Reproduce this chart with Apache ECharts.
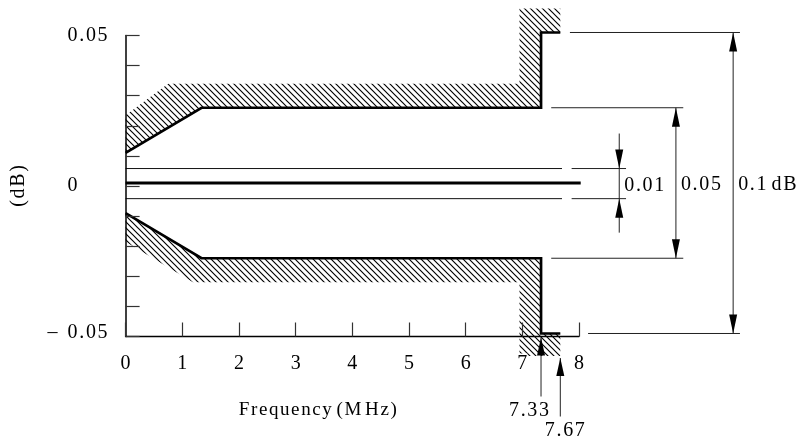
<!DOCTYPE html>
<html>
<head>
<meta charset="utf-8">
<script src="https://cdn.jsdelivr.net/npm/echarts@6/dist/echarts.min.js"></script>
<style>
  html, body { margin: 0; padding: 0; background: #fff; }
  #chart { width: 798px; height: 446px; }
</style>
</head>
<body>
<div id="chart"></div>
<script>
// Axis ranges / ticks
const xTicks = [0, 1, 2, 3, 4, 5, 6, 7, 8];            // MHz
const yLabelled = [-0.05, 0, 0.05];                     // dB

// Mask limits (MHz, dB)
const upperLimit = [[0, 0.011], [1.34, 0.026], [7.33, 0.026], [7.33, 0.051], [7.67, 0.051]];
const lowerLimit = [[0, -0.009], [1.34, -0.024], [7.33, -0.024], [7.33, -0.049], [7.67, -0.049]];

// Outer edges of the forbidden (hatched) zones, continuing from the limit's last point
const upperZoneEdge = [[7.67, 0.059], [6.95, 0.059], [6.95, 0.034], [0.75, 0.034], [0, 0.0235]];
const lowerZoneEdge = [[7.67, -0.0565], [6.95, -0.0565], [6.95, -0.032], [1.19, -0.032], [0, -0.0185]];

// Nominal response and its 0.01 dB ripple window
const nominal = [[0, 0.001], [8.03, 0.001]];
const rippleHigh = [[0, 0.0058], [7.7, 0.0058]];
const rippleLow = [[0, -0.0042], [7.7, -0.0042]];

// Extension lines for the dimension arrows
const extensionLines = [
  [[7.84, 0.051], [10.84, 0.051]],
  [[7.51, 0.026], [9.84, 0.026]],
  [[7.87, 0.0058], [8.83, 0.0058]],
  [[7.87, -0.0042], [8.83, -0.0042]],
  [[7.51, -0.024], [9.84, -0.024]],
  [[8.16, -0.049], [10.84, -0.049]]
];

// Dimensioned spans: position, bottom, top, caption
const spanX = [8.71, 9.71, 10.72];
const spanLow = [-0.0042, -0.024, -0.049];
const spanHigh = [0.0058, 0.026, 0.051];
const spanText = ['0.01', '0.05', '0.1 dB'];

// Band-edge frequencies marked below the axis
const edgeFreqs = [7.33, 7.67];
const edgeText = ['7.33', '7.67'];

const FONT = '"Liberation Serif", "Times New Roman", serif';
// letter-spaced text; ordinary spaces are kept as they are
const spaced = s => s.split(' ').map(w => w.split('').join('\u200A')).join(' ');

function makeHatch() {
  const s = 6;
  const c = document.createElement('canvas');
  c.width = s; c.height = s;
  const g = c.getContext('2d');
  g.strokeStyle = '#000';
  g.lineWidth = 1.15;
  g.beginPath();
  for (let k = -1; k <= 1; k++) {
    g.moveTo(k * s - 1, -1);
    g.lineTo(k * s + s + 1, s + 1);
  }
  g.stroke();
  return c;
}
const hatch = { image: makeHatch(), repeat: 'repeat' };

function arrowHead(tip, dir, len, w) {
  const px = -dir[1], py = dir[0];
  const bx = tip[0] - dir[0] * len, by = tip[1] - dir[1] * len;
  return {
    type: 'polygon',
    shape: { points: [tip, [bx + px * w / 2, by + py * w / 2], [bx - px * w / 2, by - py * w / 2]] },
    style: { fill: '#000', stroke: null }
  };
}

function renderAnnotations(params, api) {
  const pt = p => api.coord(p);
  const kids = [];
  // forbidden zones
  [[upperLimit, upperZoneEdge], [lowerLimit, lowerZoneEdge]].forEach(([lim, edge]) => {
    kids.push({
      type: 'polygon', z2: 0,
      shape: { points: lim.concat(edge).map(pt) },
      style: { fill: hatch, stroke: null }
    });
  });
  // extension lines
  extensionLines.forEach(seg => {
    kids.push({
      type: 'polyline',
      shape: { points: seg.map(pt) },
      style: { stroke: '#222', lineWidth: 1, fill: null }
    });
  });
  // dimension arrows
  spanX.forEach((x, i) => {
    const top = pt([x, spanHigh[i]]);
    const bot = pt([x, spanLow[i]]);
    const L = 19, W = 8;
    if (i === 0) {
      // narrow span: arrows point inward from outside
      kids.push({ type: 'line', shape: { x1: top[0], y1: top[1] - 35, x2: bot[0], y2: bot[1] + 34 },
        style: { stroke: '#222', lineWidth: 1 } });
      kids.push(arrowHead(top, [0, 1], L, W));
      kids.push(arrowHead(bot, [0, -1], L, W));
    } else {
      kids.push({ type: 'line', shape: { x1: top[0], y1: top[1], x2: bot[0], y2: bot[1] },
        style: { stroke: '#222', lineWidth: 1 } });
      kids.push(arrowHead(top, [0, -1], L, W));
      kids.push(arrowHead(bot, [0, 1], L, W));
    }
    const midY = (top[1] + bot[1]) / 2 + 2;
    kids.push({ type: 'text', style: {
      text: spaced(spanText[i]), x: top[0] + 5, y: midY,
      fill: '#000', fontSize: 20, fontFamily: FONT, align: 'left', verticalAlign: 'middle'
    } });
  });
  // band-edge markers under the axis
  edgeFreqs.forEach((f, i) => {
    const base = pt([f, -0.05]);
    const tipY = i === 0 ? base[1] + 1 : base[1] + 21.5;
    const tailY = i === 0 ? base[1] + 60 : base[1] + 80;
    kids.push({ type: 'line', shape: { x1: base[0], y1: tipY, x2: base[0], y2: tailY },
      style: { stroke: '#222', lineWidth: 1 } });
    kids.push(arrowHead([base[0], tipY], [0, -1], 18, 8));
    kids.push({ type: 'text', style: {
      text: spaced(edgeText[i]),
      x: base[0] + (i === 0 ? -12 : 4.5), y: tailY + 14,
      fill: '#000', fontSize: 20, fontFamily: FONT, align: 'center', verticalAlign: 'middle'
    } });
  });
  return { type: 'group', children: kids };
}

const near = (a, b) => Math.abs(a - b) < 1e-9;

const chart = echarts.init(document.getElementById('chart'), null, { renderer: 'canvas' });
chart.setOption({
  animation: false,
  backgroundColor: '#fff',
  grid: { left: 125.6, right: 219, top: 35.5, bottom: 109.5, containLabel: false, outerBoundsMode: 'none' },
  xAxis: {
    type: 'value', min: xTicks[0], max: xTicks[xTicks.length - 1], interval: 1, z: 5,
    name: spaced('Frequency (M') + '\u2009' + spaced('Hz)'),
    nameLocation: 'middle', nameGap: 64,
    nameTextStyle: { fontFamily: FONT, fontSize: 19, color: '#000', padding: [0, 69, 0, 0] },
    axisLine: { show: true, onZero: false, lineStyle: { color: '#000', width: 1.4 } },
    axisTick: { show: true, inside: true, length: 14, lineStyle: { color: '#333', width: 1.2 } },
    splitLine: { show: false },
    axisLabel: {
      margin: 17, fontFamily: FONT, fontSize: 20, color: '#000', backgroundColor: '#fff',
      formatter: v => xTicks.includes(Math.round(v)) ? String(Math.round(v)) : ''
    }
  },
  yAxis: {
    type: 'value', min: -0.05, max: 0.05, interval: 0.01, z: 5,
    name: spaced('(dB)'), nameLocation: 'middle', nameRotate: 90, nameGap: 97,
    nameTextStyle: { fontFamily: FONT, fontSize: 20, color: '#000' },
    axisLine: { show: true, onZero: false, lineStyle: { color: '#000', width: 1.5 } },
    axisTick: { show: true, inside: true, length: 14, lineStyle: { color: '#333', width: 1.2 } },
    splitLine: { show: false },
    axisLabel: {
      margin: 18, fontFamily: FONT, fontSize: 20, color: '#000',
      formatter: v => {
        if (near(v, yLabelled[1])) return '{z|0}';
        if (near(v, yLabelled[2])) return spaced('0.05');
        if (near(v, yLabelled[0])) return '{n|\u2013\u2002' + spaced('0.05') + '}';
        return '';
      },
      rich: {
        z: { fontFamily: FONT, fontSize: 20, color: '#000', padding: [0, 30, 0, 0] },
        n: { fontFamily: FONT, fontSize: 20, color: '#000', padding: [0, 0, 8, 0] }
      }
    }
  },
  series: [
    { type: 'custom', coordinateSystem: 'cartesian2d', clip: false, z: 1, silent: true,
      data: [[0, 0]], renderItem: renderAnnotations },
    { type: 'line', data: upperLimit, symbol: 'none', clip: false, z: 3, silent: true,
      lineStyle: { color: '#000', width: 2.7, cap: 'butt', join: 'miter' } },
    { type: 'line', data: lowerLimit, symbol: 'none', clip: false, z: 3, silent: true,
      lineStyle: { color: '#000', width: 2.7, cap: 'butt', join: 'miter' } },
    { type: 'line', data: nominal, symbol: 'none', clip: false, z: 3, silent: true,
      lineStyle: { color: '#000', width: 3, cap: 'butt' } },
    { type: 'line', data: rippleHigh, symbol: 'none', clip: false, z: 3, silent: true,
      lineStyle: { color: '#111', width: 1 } },
    { type: 'line', data: rippleLow, symbol: 'none', clip: false, z: 3, silent: true,
      lineStyle: { color: '#111', width: 1 } }
  ]
});
</script>
</body>
</html>
